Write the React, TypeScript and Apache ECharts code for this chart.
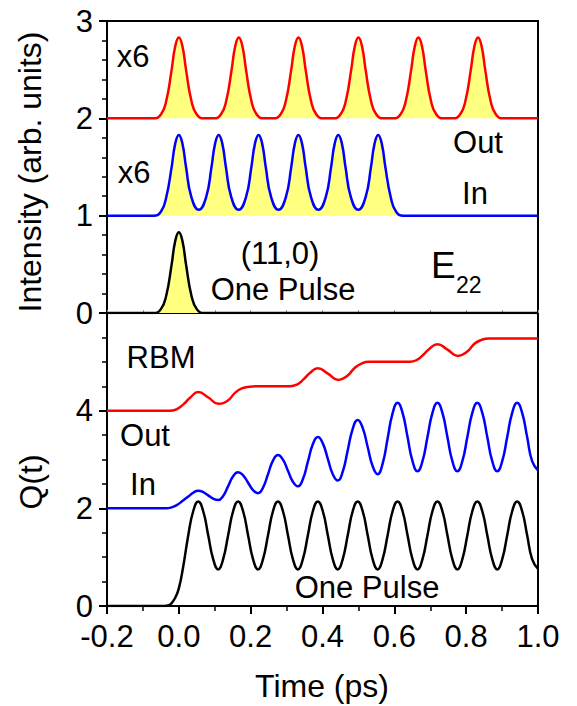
import React, { useEffect, useRef } from 'react';
import * as echarts from 'echarts';

// ---- Top panel: intensity (arb. units) ----
const outT = [-0.2, -0.09, -0.07, -0.05, -0.035, -0.02, -0.01, 0, 0.01, 0.02, 0.035, 0.05, 0.07,
  0.097, 0.117, 0.132, 0.147, 0.157, 0.167, 0.177, 0.187, 0.202, 0.217, 0.237,
  0.263, 0.283, 0.298, 0.313, 0.323, 0.333, 0.343, 0.353, 0.368, 0.383, 0.403,
  0.43, 0.45, 0.465, 0.48, 0.49, 0.5, 0.51, 0.52, 0.535, 0.55, 0.57,
  0.597, 0.617, 0.632, 0.647, 0.657, 0.667, 0.677, 0.687, 0.702, 0.717, 0.737,
  0.763, 0.783, 0.798, 0.813, 0.823, 0.833, 0.843, 0.853, 0.868, 0.883, 0.903,
  0.93, 1.0];
const outI = [2, 2, 2, 2.04, 2.18, 2.5, 2.74, 2.83, 2.74, 2.5, 2.18, 2.04, 2,
  2, 2.04, 2.18, 2.5, 2.74, 2.83, 2.74, 2.5, 2.18, 2.04, 2,
  2, 2.04, 2.18, 2.5, 2.74, 2.83, 2.74, 2.5, 2.18, 2.04, 2,
  2, 2.04, 2.18, 2.5, 2.74, 2.83, 2.74, 2.5, 2.18, 2.04, 2,
  2, 2.04, 2.18, 2.5, 2.74, 2.83, 2.74, 2.5, 2.18, 2.04, 2,
  2, 2.04, 2.18, 2.5, 2.74, 2.83, 2.74, 2.5, 2.18, 2.04, 2,
  2, 2];

const inT = [-0.2, -0.09, -0.07, -0.05, -0.035, -0.02, -0.01, 0, 0.01, 0.02, 0.035, 0.0555,
  0.076, 0.091, 0.101, 0.111, 0.121, 0.131, 0.146, 0.1665,
  0.187, 0.202, 0.212, 0.222, 0.232, 0.242, 0.257, 0.2775,
  0.298, 0.313, 0.323, 0.333, 0.343, 0.353, 0.368, 0.3885,
  0.409, 0.424, 0.434, 0.444, 0.454, 0.464, 0.479, 0.4995,
  0.52, 0.535, 0.545, 0.555, 0.565, 0.575, 0.59, 0.605, 0.625, 0.645, 1.0];
const inI = [1, 1, 1, 1.04, 1.19, 1.5, 1.74, 1.83, 1.74, 1.5, 1.19, 1.06,
  1.19, 1.5, 1.74, 1.83, 1.74, 1.5, 1.19, 1.06,
  1.19, 1.5, 1.74, 1.83, 1.74, 1.5, 1.19, 1.06,
  1.19, 1.5, 1.74, 1.83, 1.74, 1.5, 1.19, 1.06,
  1.19, 1.5, 1.74, 1.83, 1.74, 1.5, 1.19, 1.06,
  1.19, 1.5, 1.74, 1.83, 1.74, 1.5, 1.19, 1.04, 1, 1, 1];

const pulseT = [-0.2, -0.09, -0.07, -0.05, -0.035, -0.02, -0.01, 0, 0.01, 0.02, 0.035, 0.05, 0.07, 0.09, 1.0];
const pulseI = [0, 0, 0, 0.04, 0.18, 0.5, 0.74, 0.83, 0.74, 0.5, 0.18, 0.04, 0, 0, 0];

// ---- Bottom panel: Q(t) ----
const qOutT = [-0.2, -0.06, -0.023, -0.003, 0.014, 0.032, 0.054, 0.082, 0.11, 0.137, 0.157, 0.177, 0.197, 0.22,
  0.31, 0.33, 0.347, 0.365, 0.387, 0.415, 0.444, 0.47, 0.49, 0.51, 0.53,
  0.643, 0.663, 0.68, 0.698, 0.72, 0.748, 0.777, 0.803, 0.823, 0.843, 0.863, 1.0];
const qOutV = [4, 4, 4, 4.04, 4.14, 4.27, 4.38, 4.27, 4.14, 4.21, 4.37, 4.46, 4.49, 4.5,
  4.5, 4.54, 4.64, 4.77, 4.87, 4.76, 4.63, 4.72, 4.88, 4.97, 5.0,
  5.0, 5.04, 5.14, 5.27, 5.36, 5.25, 5.12, 5.21, 5.37, 5.45, 5.48, 5.48];

// sample times of the RBM oscillation (eighth-period steps from the first maximum)
const oscT = [
  0.054, 0.0679, 0.0818, 0.0956, 0.1095, 0.1234, 0.1373, 0.1511,
  0.165, 0.1789, 0.1928, 0.2066, 0.2205, 0.2344, 0.2483, 0.2621,
  0.276, 0.2899, 0.3038, 0.3176, 0.3315, 0.3454, 0.3593, 0.3731,
  0.387, 0.4009, 0.4148, 0.4286, 0.4425, 0.4564, 0.4703, 0.4841,
  0.498, 0.5119, 0.5258, 0.5396, 0.5535, 0.5674, 0.5813, 0.5951,
  0.609, 0.6229, 0.6368, 0.6506, 0.6645, 0.6784, 0.6923, 0.7061,
  0.72, 0.7339, 0.7478, 0.7616, 0.7755, 0.7894, 0.8033, 0.8171,
  0.831, 0.8449, 0.8588, 0.8726, 0.8865, 0.9004, 0.9143, 0.9281,
  0.942, 0.9559, 0.9698, 0.9836, 1.0];

const qInOnsetT = [-0.2, -0.06, -0.035, -0.02, -0.005, 0.01, 0.0263, 0.04];
const qInOnsetV = [2, 2, 2, 2.02, 2.07, 2.15, 2.24, 2.32];
const qInV = [
  2.36, 2.332, 2.265, 2.198, 2.17, 2.254, 2.455, 2.656,
  2.74, 2.677, 2.525, 2.373, 2.31, 2.424, 2.70, 2.976,
  3.09, 2.996, 2.77, 2.544, 2.45, 2.598, 2.955, 3.312,
  3.46, 3.33, 3.015, 2.70, 2.57, 2.752, 3.19, 3.628,
  3.81, 3.647, 3.255, 2.863, 2.70, 2.914, 3.43, 3.946,
  4.16, 3.955, 3.46, 2.965, 2.76, 2.965, 3.46, 3.955,
  4.16, 3.955, 3.46, 2.965, 2.76, 2.965, 3.46, 3.955,
  4.16, 3.955, 3.46, 2.965, 2.76, 2.965, 3.46, 3.955,
  4.16, 3.955, 3.46, 2.965, 2.78];

const qPulseOnsetT = [-0.2, -0.06, -0.04, -0.03, -0.02, -0.01, 0, 0.012, 0.0263, 0.04];
const qPulseOnsetV = [0, 0, 0, 0.01, 0.06, 0.17, 0.36, 0.8, 1.45, 1.94];
const qPulseV = [
  2.14, 1.94, 1.45, 0.96, 0.75, 0.96, 1.45, 1.94,
  2.14, 1.94, 1.45, 0.96, 0.75, 0.96, 1.45, 1.94,
  2.14, 1.94, 1.45, 0.96, 0.75, 0.96, 1.45, 1.94,
  2.14, 1.94, 1.45, 0.96, 0.75, 0.96, 1.45, 1.94,
  2.14, 1.94, 1.45, 0.96, 0.75, 0.96, 1.45, 1.94,
  2.14, 1.94, 1.45, 0.96, 0.75, 0.96, 1.45, 1.94,
  2.14, 1.94, 1.45, 0.96, 0.75, 0.96, 1.45, 1.94,
  2.14, 1.94, 1.45, 0.96, 0.75, 0.96, 1.45, 1.94,
  2.14, 1.94, 1.45, 0.96, 0.76];

const FONT = '"Liberation Sans", Arial, Helvetica, sans-serif';
const FILL = '#FFFF80';

const pairs = (t: number[], v: number[]) => t.map((x, i) => [x, v[i]]);

function text(x: number, y: number, s: string, size: number, extra: any = {}) {
  return {
    type: 'text', x, y, ...extra,
    style: {
      text: s, fontSize: size, fontFamily: FONT, fill: '#000',
      align: extra.align || 'center', textAlign: extra.align || 'center',
      verticalAlign: 'middle', textVerticalAlign: 'middle',
    },
  };
}

export default function App() {
  const ref = useRef<HTMLDivElement>(null);
  useEffect(() => {
    if (!ref.current) return;
    const chart = echarts.init(ref.current, undefined, { renderer: 'svg' });
    const axisLine = { show: true, onZero: false, lineStyle: { color: '#000', width: 2 } };
    const label = { color: '#000', fontSize: 31, fontFamily: FONT };
    const line = (name: string, t: number[], v: number[], color: string, xi: number, origin?: number) => ({
      name, type: 'line', xAxisIndex: xi, yAxisIndex: xi, data: pairs(t, v), smooth: 0.5,
      symbol: 'none', showSymbol: false, lineStyle: { color, width: 2.5 },
      ...(origin !== undefined ? { areaStyle: { color: FILL, opacity: 1, origin } } : {}),
    });
    chart.setOption({
      animation: false,
      grid: [
        { left: 107, right: 39, top: 21, height: 292, show: true, borderColor: '#000', borderWidth: 2 },
        { left: 107, right: 39, top: 313, height: 293, show: true, borderColor: '#000', borderWidth: 2 },
      ],
      xAxis: [
        {
          type: 'value', gridIndex: 0, min: -0.2, max: 1.0, interval: 0.1,
          axisLine, axisLabel: { show: false }, splitLine: { show: false },
          axisTick: { show: true, inside: true, length: 3, lineStyle: { color: '#999', width: 1 } },
        },
        {
          type: 'value', gridIndex: 1, min: -0.2, max: 1.0, interval: 0.2,
          axisLine, splitLine: { show: false },
          axisTick: { show: true, inside: false, length: 8, lineStyle: { color: '#000', width: 2 } },
          minorTick: { show: true, splitNumber: 2, length: 5, lineStyle: { color: '#000', width: 1.5 } },
          axisLabel: { ...label, margin: 15, formatter: (v: number) => v.toFixed(1) },
        },
      ],
      yAxis: [
        {
          type: 'value', gridIndex: 0, min: 0, max: 3, interval: 1,
          axisLine, splitLine: { show: false },
          axisTick: { show: true, inside: false, length: 8, lineStyle: { color: '#000', width: 2 } },
          minorTick: { show: true, splitNumber: 5, length: 5, lineStyle: { color: '#000', width: 1.5 } },
          axisLabel: { ...label, margin: 14 },
        },
        {
          type: 'value', gridIndex: 1, min: 0, max: 6, interval: 2,
          axisLine, splitLine: { show: false },
          axisTick: { show: true, inside: false, length: 8, lineStyle: { color: '#000', width: 2 } },
          minorTick: { show: true, splitNumber: 4, length: 5, lineStyle: { color: '#000', width: 1.5 } },
          axisLabel: { ...label, margin: 14, formatter: (v: number) => (v === 6 ? '' : String(v)) },
        },
      ],
      series: [
        line('Out', outT, outI, '#FF0000', 0, 2),
        line('In', inT, inI, '#0000FF', 0, 1),
        line('One Pulse', pulseT, pulseI, '#000000', 0, 0),
        line('RBM Out', qOutT, qOutV, '#FF0000', 1),
        line('RBM In', qInOnsetT.concat(oscT), qInOnsetV.concat(qInV), '#0000FF', 1),
        line('RBM One Pulse', qPulseOnsetT.concat(oscT), qPulseOnsetV.concat(qPulseV), '#000000', 1),
      ],
      graphic: [
        text(133, 56, 'x6', 31),
        text(134, 172, 'x6', 31),
        text(280, 253, '(11,0)', 31),
        text(283, 289, 'One Pulse', 31),
        text(478, 142, 'Out', 31),
        text(475, 193, 'In', 31),
        text(431, 265, 'E', 37, { align: 'left' }),
        text(456, 285, '22', 23, { align: 'left' }),
        text(161, 357, 'RBM', 31),
        text(145, 435, 'Out', 31),
        text(143, 484, 'In', 31),
        text(367, 587, 'One Pulse', 31),
        text(322, 686, 'Time (ps)', 32),
        text(30, 172, 'Intensity (arb. units)', 32, { rotation: Math.PI / 2 }),
        text(31, 482, 'Q(t)', 32, { rotation: Math.PI / 2 }),
      ],
    });
    return () => chart.dispose();
  }, []);
  return <div ref={ref} style={{ position: 'absolute', left: 0, top: 0, width: 577, height: 706 }} />;
}
